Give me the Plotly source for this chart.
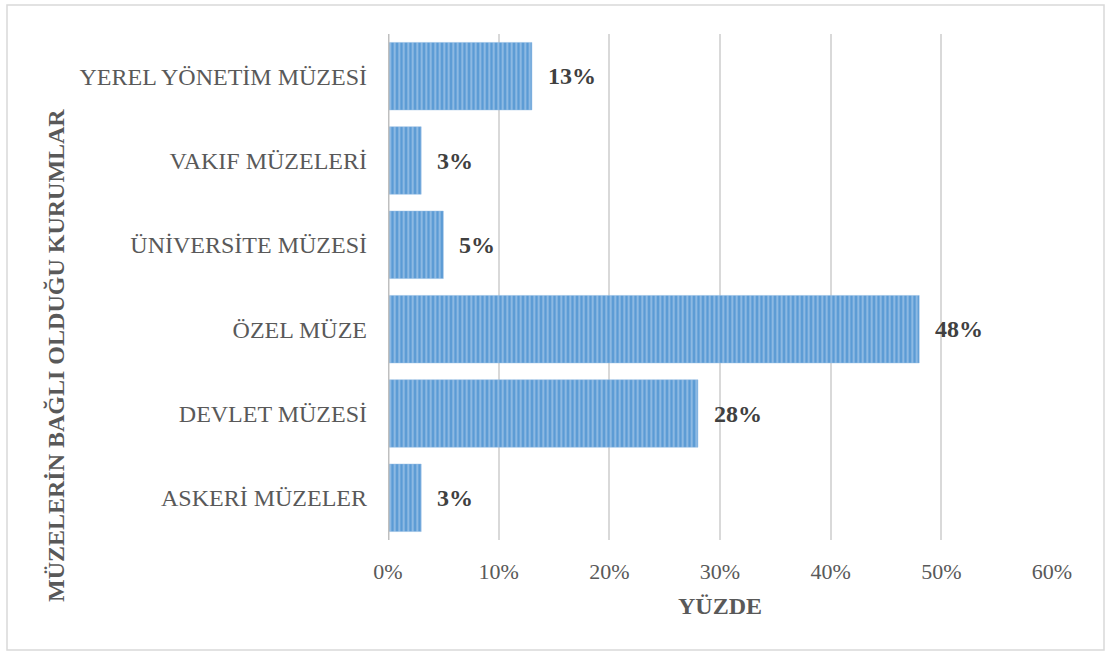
import plotly.graph_objects as go

categories = ["ASKERİ MÜZELER", "DEVLET MÜZESİ", "ÖZEL MÜZE",
              "ÜNİVERSİTE MÜZESİ", "VAKIF MÜZELERİ", "YEREL YÖNETİM MÜZESİ"]
values = [0.03, 0.28, 0.48, 0.05, 0.03, 0.13]
labels = ["3%", "28%", "48%", "5%", "3%", "13%"]
x_ticks = [0, 0.1, 0.2, 0.3, 0.4, 0.5, 0.6]
x_ticklabels = ["0%", "10%", "20%", "30%", "40%", "50%", "60%"]

W, H = 1105, 651
L, R, T, B = 388, 1052, 34, 540

fig = go.Figure()
fig.add_trace(go.Bar(
    y=categories, x=values, orientation="h",
    marker=dict(color="#5B9BD5",
                line=dict(color="#8FB8E2", width=0.5),
                pattern=dict(shape="|", fgcolor="#CFE2F5", size=4.5, solidity=0.4)),
    width=0.8, hoverinfo="skip",
))

for c, v, t in zip(categories, values, labels):
    fig.add_annotation(x=v, y=c, xref="x", yref="y", text="<b>" + t + "</b>",
                       showarrow=False, xanchor="left", yanchor="middle", xshift=14,
                       font=dict(family="Liberation Serif", size=24, color="#404040"))

fig.update_layout(
    width=W, height=H,
    margin=dict(l=L, r=W - R, t=T, b=H - B),
    paper_bgcolor="white", plot_bgcolor="white",
    showlegend=False,
    font=dict(family="Liberation Serif", color="#595959", size=22),
    xaxis=dict(range=[0, 0.6], tickvals=x_ticks, ticktext=x_ticklabels,
               showgrid=True, gridcolor="#D9D9D9", gridwidth=1.5,
               zeroline=False, showline=False, ticks="",
               ticklabelstandoff=16,
               tickfont=dict(family="Liberation Serif", size=22, color="#595959")),
    yaxis=dict(categoryorder="array", categoryarray=categories,
               showgrid=False, zeroline=False, showline=False, ticks="",
               ticklabelstandoff=20,
               tickfont=dict(family="Liberation Serif", size=24, color="#595959")),
)

pw, ph = R - L, B - T
def px(xp): return (xp - L) / pw
def py(yp): return (B - yp) / ph

# zero axis line
fig.add_shape(type="line", xref="x", yref="paper", x0=0, x1=0, y0=0, y1=1,
              line=dict(color="#BFBFBF", width=3))
# outer border
fig.add_shape(type="rect", xref="paper", yref="paper",
              x0=px(7), x1=px(1104), y0=py(650), y1=py(5),
              line=dict(color="#D9D9D9", width=1.5), layer="below")

fig.add_annotation(text="<b>YÜZDE</b>", xref="paper", yref="paper",
                   x=px(720), y=py(606), showarrow=False,
                   xanchor="center", yanchor="middle",
                   font=dict(family="Liberation Serif", size=24, color="#595959"))
fig.add_annotation(text="<b>MÜZELERİN BAĞLI OLDUĞU KURUMLAR</b>", xref="paper", yref="paper",
                   x=px(56), y=py(356), showarrow=False, textangle=-90,
                   xanchor="center", yanchor="middle",
                   font=dict(family="Liberation Serif", size=24, color="#595959"))

fig.write_html("out.html", config={"displayModeBar": False},
               post_script="document.body.style.margin='0';")
